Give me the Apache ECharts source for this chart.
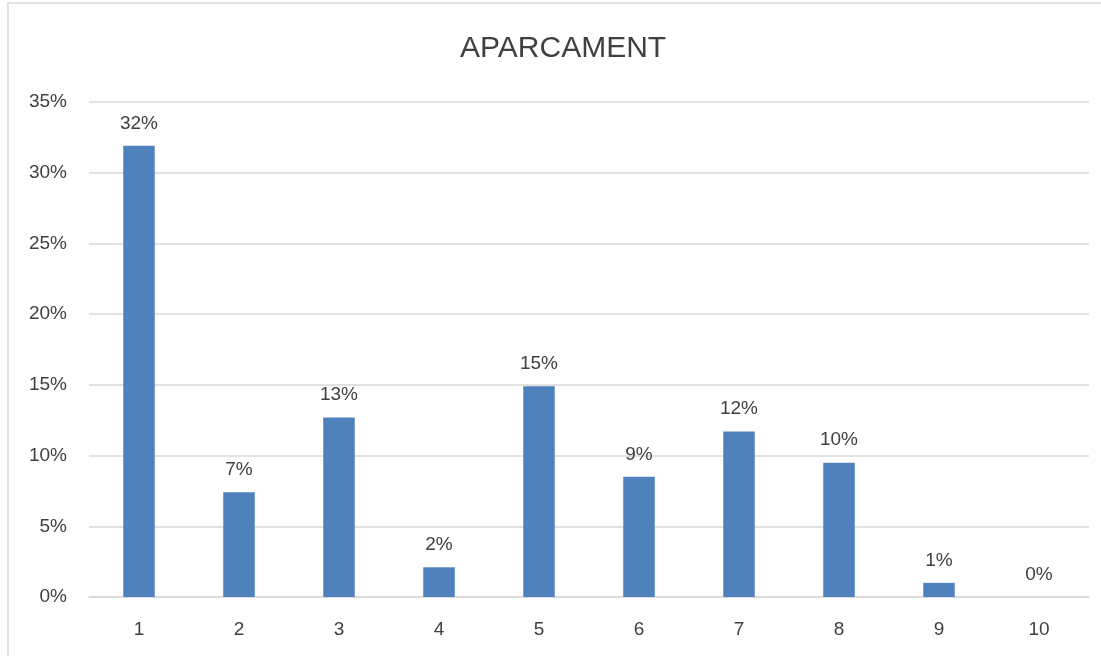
<!DOCTYPE html>
<html>
<head>
<meta charset="utf-8">
<script src="https://cdn.jsdelivr.net/npm/echarts@6/dist/echarts.min.js"></script>
<style>
html,body{margin:0;padding:0;background:#fff;}
#chart{width:1101px;height:656px;}
</style>
</head>
<body>
<div id="chart"></div>
<script>
const titleText = 'APARCAMENT';
const categories = ['1','2','3','4','5','6','7','8','9','10'];
const values = [0.319, 0.074, 0.127, 0.021, 0.149, 0.085, 0.117, 0.095, 0.010, 0];
const yTicks = [0, 0.05, 0.10, 0.15, 0.20, 0.25, 0.30, 0.35];

const font = 'Liberation Sans, Arial, sans-serif';
const textColor = '#404040';
const chart = echarts.init(document.getElementById('chart'));
chart.setOption({
  backgroundColor: '#ffffff',
  animation: false,
  graphic: [{
    type: 'rect',
    shape: { x: 8, y: 3, width: 1200, height: 700 },
    style: { fill: 'none', stroke: '#D9D9D9', lineWidth: 1.5 },
    silent: true
  }],
  title: {
    text: titleText,
    left: 455,
    top: 29,
    textStyle: { fontFamily: font, fontSize: 30, fontWeight: 'normal', color: textColor }
  },
  grid: { left: 89, right: 12, top: 102, bottom: 59, containLabel: false },
  xAxis: {
    type: 'category',
    data: categories,
    axisLine: { show: true, lineStyle: { color: '#D9D9D9', width: 1.5 } },
    axisTick: { show: false },
    axisLabel: { fontFamily: font, fontSize: 19, color: textColor, margin: 23 }
  },
  yAxis: {
    type: 'value',
    min: yTicks[0],
    max: yTicks[yTicks.length - 1],
    interval: 0.05,
    axisLine: { show: false },
    axisTick: { show: false },
    splitLine: { lineStyle: { color: '#D9D9D9', width: 1.5 } },
    axisLabel: {
      fontFamily: font, fontSize: 19, color: textColor, margin: 22,
      formatter: v => Math.round(v * 100) + '%'
    }
  },
  series: [{
    type: 'bar',
    data: values,
    barWidth: 31.5,
    itemStyle: { color: '#4F81BD' },
    label: {
      show: true,
      position: 'top',
      distance: 13,
      fontFamily: font,
      fontSize: 19,
      color: textColor,
      formatter: p => Math.round(p.value * 100) + '%'
    }
  }]
});
</script>
</body>
</html>
